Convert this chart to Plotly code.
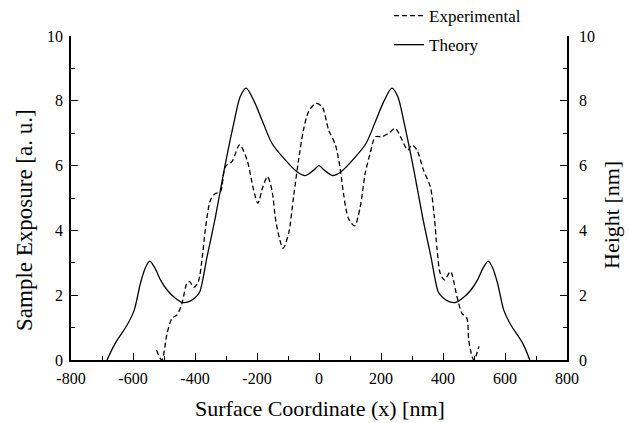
import plotly.graph_objects as go

# Theory curve (solid)
theory_x = [-684, -657, -619, -596, -576, -560, -546, -530, -510, -490, -465, -442, -420, -400, -385,
            -361, -334, -308, -275, -254, -235, -211, -184, -152, -114, -71, -44, -17, 0,
            17, 44, 71, 114, 152, 184, 211, 235, 254, 275, 308, 334, 361, 385, 400, 420, 442,
            465, 490, 510, 530, 546, 560, 576, 596, 619, 657, 680]
theory_y = [0.0, 0.52, 1.08, 1.54, 2.37, 2.85, 3.05, 2.85, 2.45, 2.16, 1.92, 1.78, 1.80, 1.92, 2.10,
            3.19, 4.42, 5.76, 7.30, 8.13, 8.39, 8.02, 7.41, 6.69, 6.23, 5.81, 5.69, 5.86, 6.0,
            5.86, 5.69, 5.81, 6.23, 6.69, 7.41, 8.02, 8.39, 8.13, 7.30, 5.76, 4.42, 3.19, 2.10, 1.92, 1.80, 1.78,
            1.92, 2.16, 2.45, 2.85, 3.05, 2.85, 2.37, 1.54, 1.08, 0.52, 0.0]

# Experimental curve (dashed)
exp_x = [-524, -507, -490, -474, -458, -442, -426, -417, -404, -390, -375, -367, -350, -334, -318,
         -302, -281, -256, -232, -211, -197, -181, -166, -152, -138, -116, -98, -82, -66, -50, -34,
         -10, 10, 31, 53, 69, 79, 95, 115, 133, 149, 165, 182, 203, 225, 246, 268, 286, 300, 316,
         337, 359, 372, 381, 391, 405, 424, 445, 461, 477, 483, 494, 500, 516]
exp_y = [0.3, 0.0, 0.82, 1.29, 1.39, 1.75, 2.37, 2.42, 2.24, 2.40, 3.30, 4.0, 4.94, 5.14, 5.19,
         5.97, 6.12, 6.64, 6.17, 5.25, 4.84, 5.35, 5.66, 5.25, 4.22, 3.45, 3.91, 5.04, 6.17, 7.10, 7.66,
         7.92, 7.82, 7.10, 6.64, 5.86, 5.14, 4.37, 4.14, 4.73, 5.76, 6.38, 6.89, 6.89, 7.0, 7.15, 6.79, 6.48, 6.64, 6.48,
         5.86, 5.35, 4.42, 3.40, 2.68, 2.47, 2.73, 1.96, 1.44, 1.29, 0.62, 0.1, 0.0, 0.42]

x_ticks = [-800, -600, -400, -200, 0, 200, 400, 600, 800]
y_ticks = [0, 2, 4, 6, 8, 10]

FONT = "Liberation Serif"

fig = go.Figure()
fig.add_trace(go.Scatter(x=exp_x, y=exp_y, mode="lines", name="Experimental",
                         legendgroup="a",
                         line=dict(color="black", width=1.3, dash="5px,3px", shape="spline", smoothing=0.8)))
fig.add_trace(go.Scatter(x=theory_x, y=theory_y, mode="lines", name="Theory",
                         legendgroup="b",
                         line=dict(color="black", width=1.3, shape="spline", smoothing=0.8)))

axis_common = dict(showgrid=False, zeroline=False, showline=True, linecolor="black", linewidth=1.5,
                   ticks="inside", ticklen=7, tickwidth=1.3, tickcolor="black",
                   tickfont=dict(family=FONT, size=16, color="black"))

fig.update_layout(
    width=629, height=423,
    margin=dict(l=71, r=62, t=36, b=63, autoexpand=False),
    paper_bgcolor="white", plot_bgcolor="white",
    font=dict(family=FONT, size=16, color="black"),
    xaxis=dict(range=[-800, 800], tickvals=x_ticks, ticktext=[str(v) for v in x_ticks],
               ticklabelstandoff=3,
               minor=dict(dtick=100, ticks="inside", ticklen=4, tickcolor="black", tickwidth=1.3),
               **axis_common),
    yaxis=dict(range=[0, 10], tickvals=y_ticks, ticktext=[str(v) for v in y_ticks],
               ticklabelstandoff=3,
               minor=dict(dtick=1, ticks="inside", ticklen=4, tickcolor="black", tickwidth=1.3),
               **axis_common),
    yaxis2=dict(range=[0, 10], overlaying="y", side="right", tickvals=y_ticks,
                ticktext=[str(v) for v in y_ticks], ticklabelstandoff=7,
                minor=dict(dtick=1, ticks="inside", ticklen=4, tickcolor="black", tickwidth=1.3),
                **axis_common),
    legend=dict(x=(389 - 71) / 496, y=(360 + 2) / 324, xanchor="left", yanchor="top",
                bgcolor="rgba(0,0,0,0)", font=dict(family=FONT, size=17, color="black"),
                tracegroupgap=4, traceorder="grouped"),
    annotations=[
        dict(text="Surface Coordinate (x) [nm]", xref="paper", yref="paper",
             x=(320 - 71) / 496, y=(360 - 408) / 324, showarrow=False,
             xanchor="center", yanchor="middle", font=dict(family=FONT, size=22, color="black")),
        dict(text="Sample Exposure [a. u.]", xref="paper", yref="paper",
             x=(24 - 71) / 496, y=(360 - 220) / 324, showarrow=False, textangle=-90,
             xanchor="center", yanchor="middle", font=dict(family=FONT, size=23, color="black")),
        dict(text="Height [nm]", xref="paper", yref="paper",
             x=(611 - 71) / 496, y=(360 - 215) / 324, showarrow=False, textangle=-90,
             xanchor="center", yanchor="middle", font=dict(family=FONT, size=22, color="black")),
    ],
)
# invisible trace to activate the right axis
fig.add_trace(go.Scatter(x=[0], y=[0], yaxis="y2", mode="markers", marker=dict(opacity=0),
                         showlegend=False, hoverinfo="skip"))

fig.write_html("out.html", config={"displayModeBar": False},
               post_script="document.body.style.margin='0';document.body.style.overflow='hidden';")
